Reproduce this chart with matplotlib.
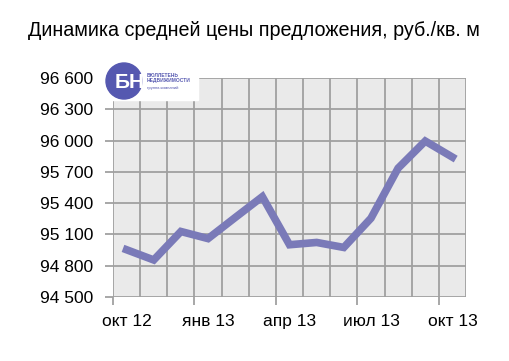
import matplotlib.pyplot as plt
from matplotlib.patches import Ellipse, Rectangle

# Данные (руб./кв. м), помесячно с окт 12 по окт 13
months = ["окт 12", "ноя 12", "дек 12", "янв 13", "фев 13", "мар 13", "апр 13",
          "май 13", "июн 13", "июл 13", "авг 13", "сен 13", "окт 13"]
price = [94953, 94855, 95128, 95060, 95262, 95462, 95001, 95023, 94975,
         95255, 95735, 95995, 95841]
yticks = [94500, 94800, 95100, 95400, 95700, 96000, 96300, 96600]
xlabels = ["окт 12", "янв 13", "апр 13", "июл 13", "окт 13"]

plt.rcParams['font.family'] = ['Liberation Sans', 'DejaVu Sans']

fig = plt.figure(figsize=(5.1, 3.61), dpi=100)
ax = fig.add_axes([0.2216, 0.1773, 0.6921, 0.6067])
ax.set_facecolor("#eaeaea")

x = [i + 0.5 for i in range(len(price))]
ax.plot(x, price, color="#7a7ab8", lw=5.5, solid_joinstyle="miter", zorder=3)

ax.set_xlim(0, len(price))
ax.set_ylim(94500, 96600)
ax.set_yticks(yticks)
ax.set_yticklabels([f"{v:,}".replace(",", " ") for v in yticks])

# сетка по границам месяцев
for i in range(len(price) + 1):
    ax.axvline(i, color="#a0a0a0", lw=1.3, zorder=1)
for v in yticks:
    ax.axhline(v, color="#a0a0a0", lw=1.3, zorder=1)

ax.set_xticks([0, 3, 6, 9, 12])
ax.set_xticklabels([])
ax.set_xticks([0.5, 3.5, 6.5, 9.5, 12.5], minor=True)
ax.set_xticklabels(xlabels, minor=True)
ax.tick_params(axis="x", which="minor", length=0, pad=12, labelsize=12.5)
ax.tick_params(axis="x", which="major", length=6, color="#a0a0a0", width=1.3)
ax.tick_params(axis="y", length=6, color="#a0a0a0", width=1.3, pad=8, labelsize=12.5)
for s in ax.spines.values():
    s.set_visible(False)

fig.text(0.498, 0.915, "Динамика средней цены предложения, руб./кв. м",
         ha="center", va="center", fontsize=14.2)

# логотип
fig.patches.append(Rectangle((100 / 510, 1 - 100 / 361), 98 / 510, 38 / 361,
                             transform=fig.transFigure, color="white", zorder=5))
fig.patches.append(Ellipse((124 / 510, 1 - 81 / 361), 36 / 510, 36 / 361,
                           transform=fig.transFigure, color="#5558b0", zorder=6))
fig.text(130 / 510, 1 - 82 / 361, "БН", color="white", fontsize=15, fontweight="bold",
         ha="center", va="center", zorder=7)
fig.text(147 / 510, 1 - 78 / 361, "БЮЛЛЕТЕНЬ\nНЕДВИЖИМОСТИ", color="#5558b0",
         fontsize=3.5, fontweight="bold", va="center", ha="left", linespacing=1.0, zorder=7)
fig.text(147 / 510, 1 - 88 / 361, "группа компаний", color="#5558b0",
         fontsize=3, va="center", ha="left", zorder=7)

fig.savefig("out.png", dpi=100, facecolor="white")
